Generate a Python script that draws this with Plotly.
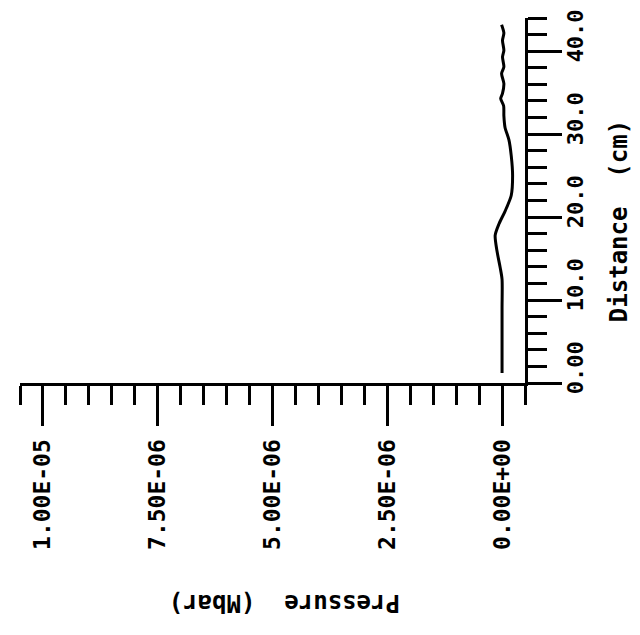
import plotly.graph_objects as go

# Data (pressure in Mbar, distance in cm)
distance_cm = [1.2, 5.0, 9.0, 12.5, 13.9, 15.9, 17.8, 19.2, 20.7, 22.6, 25.0, 27.4, 29.3,
               30.8, 32.2, 33.4, 34.3, 34.9, 36.1, 37.3, 38.1, 39.3, 40.1, 41.3, 42.2, 43.2]
pressure_e6 = [0.0, 0.0, 0.0, 0.0, 0.04, 0.11, 0.15, 0.065, -0.065, -0.20, -0.23, -0.20, -0.15,
               -0.065, -0.04, -0.035, 0.03, -0.01, -0.04, 0.01, -0.04, -0.01, -0.04, -0.01, -0.04, 0.01]
pressure = [v * 1e-6 for v in pressure_e6]

p_major = [0.0, 2.5e-6, 5.0e-6, 7.5e-6, 1.0e-5]
p_labels = ["0.00E+00", "2.50E-06", "5.00E-06", "7.50E-06", "1.00E-05"]
p_minor = [i * 0.5e-6 for i in range(-1, 22)]
d_major = [0, 10, 20, 30, 40]
d_labels = ["0.00", "10.0", "20.0", "30.0", "40.0"]
d_minor = [2 * i for i in range(0, 23)]

FONT = "DejaVu Sans Mono"

fig = go.Figure()
fig.add_trace(go.Scatter(x=pressure, y=distance_cm, mode="lines",
                         line=dict(color="black", width=3, shape="spline", smoothing=0.7),
                         showlegend=False, hoverinfo="skip"))

fig.update_layout(
    width=640, height=635,
    margin=dict(l=20, r=115, t=10, b=252),
    paper_bgcolor="white", plot_bgcolor="white",
    showlegend=False,
    xaxis=dict(range=[1.05e-5, -0.5e-6], showgrid=False, zeroline=False,
               showline=True, linecolor="black", linewidth=3,
               ticks="outside", ticklen=40, tickwidth=3, tickcolor="black",
               tickmode="array", tickvals=p_major, ticktext=p_labels,
               tickangle=-90, ticklabelstandoff=4,
               tickfont=dict(family=FONT, size=23, color="black", weight="bold"),
               minor=dict(tickmode="array", tickvals=p_minor, ticks="outside",
                          ticklen=19, tickwidth=3, tickcolor="black", showgrid=False)),
    yaxis=dict(range=[0, 44], side="right", showgrid=False, zeroline=False,
               showline=True, linecolor="black", linewidth=3,
               ticks="outside", ticklen=34, tickwidth=3, tickcolor="black",
               tickmode="array", tickvals=d_major, ticktext=d_labels,
               tickangle=-90, ticklabelstandoff=-5, ticklabelshift=-12,
               tickfont=dict(family=FONT, size=22, color="black", weight="bold"),
               minor=dict(tickmode="array", tickvals=d_minor, ticks="outside",
                          ticklen=19, tickwidth=3, tickcolor="black", showgrid=False)),
    annotations=[
        dict(text="Distance\u00a0\u00a0(cm)", xref="paper", yref="y", x=1.186, y=19.5,
             textangle=-90, showarrow=False, xanchor="center", yanchor="middle",
             font=dict(family=FONT, size=24, color="black", weight="bold")),
        dict(text="Pressure\u00a0\u00a0(Mbar)", xref="x", yref="paper", x=4.75e-6, y=-0.603,
             textangle=180, showarrow=False, xanchor="center", yanchor="middle",
             font=dict(family=FONT, size=24, color="black", weight="bold")),
    ],
)

fig.write_html("out.html")
